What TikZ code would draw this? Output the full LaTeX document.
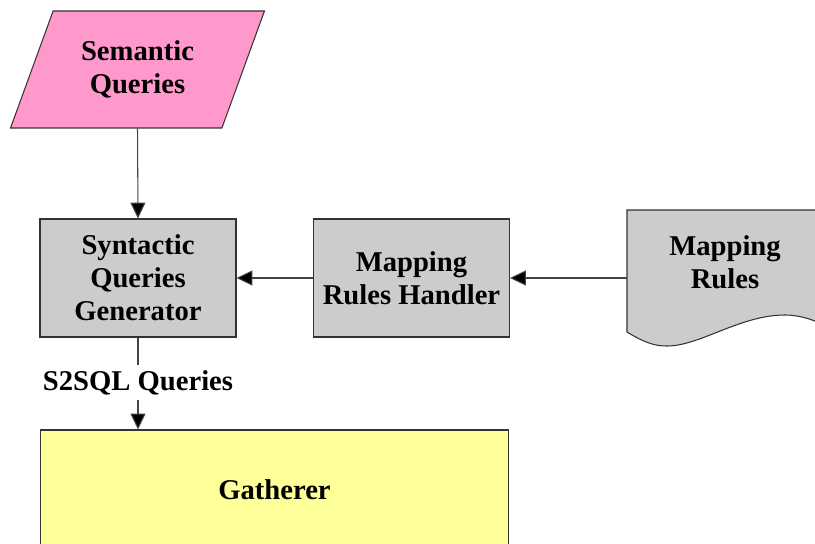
\documentclass[tikz,border=0pt]{standalone}
\usepackage{fontspec}
\setmainfont{Liberation Serif}
\usetikzlibrary{arrows.meta,shapes.geometric}
\definecolor{pinkfill}{HTML}{FF99CC}
\definecolor{grayfill}{HTML}{CCCCCC}
\definecolor{yellowfill}{HTML}{FFFF99}
\definecolor{edge}{HTML}{333333}
\definecolor{wire}{HTML}{444444}
\begin{document}
\begin{tikzpicture}[x=0.02cm,y=-0.02cm,
  every node/.style={font=\fontsize{16.3}{18.7}\selectfont\bfseries, align=center},
  box/.style={draw=edge, line width=0.6pt, rectangle, inner sep=0pt},
  proc/.style={box, fill=grayfill, minimum width=3.92cm, minimum height=2.36cm},
  arr/.style={draw=wire, line width=0.6pt, -{Triangle[length=9pt,width=8.5pt,fill=black]}},
  wireline/.style={draw=wire, line width=0.6pt}]
\useasboundingbox (0,0) rectangle (815,544);

% input data: semantic queries
\node[box, fill=pinkfill, trapezium, trapezium left angle=63.6, trapezium right angle=116.4,
      trapezium stretches=true, minimum width=5.1cm, minimum height=2.34cm]
      (sq) at (137.5,69.5) {Semantic\\Queries};

% processing blocks
\node[proc] (syn) at (138,278) {Syntactic\\Queries\\Generator};
\node[proc] (mrh) at (411.5,278) {Mapping\\Rules Handler};

% mapping rules document with wavy bottom
\filldraw[fill=grayfill, draw=edge, line width=0.6pt]
  (830,210) -- (627,210) -- (627,332)
  .. controls (645,343) and (655,346) .. (667,346)
  .. controls (700,346) and (740,315) .. (785,315)
  .. controls (800,315) and (815,320) .. (830,328) -- cycle;
\node (mr) at (725,262) {Mapping\\Rules};
\coordinate (mrin) at (627,278);

% gatherer
\node[box, fill=yellowfill, minimum width=9.38cm, minimum height=2.4cm] (gat) at (274.5,490) {Gatherer};

% label on the link to the gatherer
\node[inner sep=0pt, minimum height=0.7cm] (lbl) at (138,382.5) {S2SQL Queries};

% connectors
\draw[arr] (sq.south) -- (syn.north);
\draw[arr] (mrh.west) -- (syn.east);
\draw[arr] (mrin) -- (mrh.east);
\draw[wireline] (syn.south) -- (lbl.north);
\draw[arr] (lbl.south) -- (lbl.south |- gat.north);
\end{tikzpicture}
\end{document}
